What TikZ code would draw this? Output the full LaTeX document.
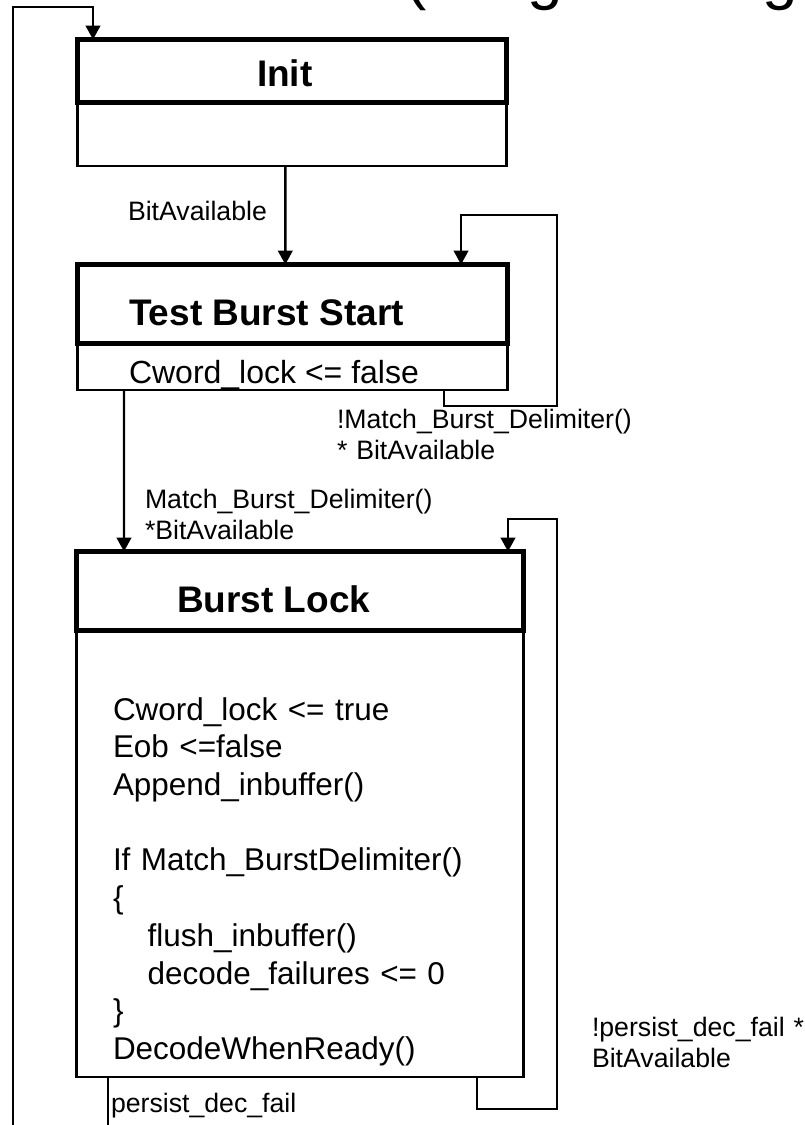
\documentclass[tikz,border=0pt]{standalone}
\usepackage{fontspec}
\setmainfont{Liberation Sans}
\usetikzlibrary{positioning,arrows.meta}

\begin{document}
\begin{tikzpicture}[
        x=0.75pt, y=-0.75pt,
        every node/.style={inner sep=0pt, outer sep=0pt},
        head/.style = {draw, line width=3.75pt},
        body/.style = {draw, line width=1.8pt},
        title/.style = {font=\fontsize{27.75pt}{33pt}\selectfont\bfseries, anchor=base west},
        code/.style = {font=\fontsize{23.6pt}{28.3pt}\selectfont, anchor=base west},
        guard/.style = {font=\fontsize{20pt}{23.25pt}\selectfont, anchor=base west, align=left, text width=240pt},
        trans/.style = {draw, line width=1.8pt, -{Triangle[length=10.5pt,width=11pt]}}
    ]
 \useasboundingbox (0,0) rectangle (804,1125);

 \node[anchor=base west, font=\fontsize{48pt}{50pt}\selectfont] (cut a) at (405,-3) {(};
 \node[anchor=base west, font=\fontsize{48pt}{50pt}\selectfont] (cut b) at (527,-3) {g};
 \node[anchor=base west, font=\fontsize{48pt}{50pt}\selectfont] (cut c) at (762,-3) {g};

 \node[head, minimum width=321.75pt, minimum height=47.25pt] (init) at (292,71) {};
 \node[body, minimum width=321.75pt, minimum height=47.5pt, below=0pt of init] (init body) {};
 \node[title] (init name) at (257,86) {Init};

 \node[head, minimum width=322.5pt, minimum height=58.875pt] (tbs) at (292.5,303.75) {};
 \node[body, minimum width=322.5pt, minimum height=35.25pt, below=0pt of tbs] (tbs body) {};
 \node[title] (tbs name) at (129,325) {Test Burst Start};
 \node[code, font=\fontsize{24pt}{28pt}\selectfont] (tbs act) at (129,383) {Cword\_lock <= false};

 \node[head, minimum width=335.25pt, minimum height=58.875pt] (lock) at (300,590.75) {};
 \node[body, minimum width=335.25pt, minimum height=335.25pt, below=0pt of lock] (lock body) {};
 \node[title] (lock name) at (177,612) {Burst Lock};
 \node[code, align=left, text width=300pt] (lock act) at (113,720) {Cword\_lock <= true\\
 Eob <=false\\
 Append\_inbuffer()\\
 \mbox{}\\
 If Match\_BurstDelimiter()\\
 \{\\
 \hspace*{26pt}flush\_inbuffer()\\
 \hspace*{26pt}decode\_failures <= 0\\
 \}\\
 DecodeWhenReady()};

 \node[guard] (g1) at (128,220) {BitAvailable};
 \node[guard] (g2) at (337,428) {!Match\_Burst\_Delimiter()\\{}* BitAvailable};
 \node[guard] (g3) at (145,508) {Match\_Burst\_Delimiter()\\{}*BitAvailable};
 \node[guard] (g4) at (592,1036) {!persist\_dec\_fail *\\BitAvailable};
 \node[guard] (g5) at (111,1112) {persist\_dec\_fail};

 \coordinate (back) at (13,1125);
 \coordinate (top) at (93,7);
 \coordinate (fail) at (108,1125);

 \draw[trans] (back) |- (top) -- (init.north -| top);
 \draw[trans] ([xshift=-5pt]init body.south) -- ([xshift=-5.4pt]tbs.north);
 \draw[trans] ([xshift=113.6pt]tbs body.south) -- ++(0,16) -| (557,215) -| ([xshift=126.4pt]tbs.north);
 \draw[trans] ([xshift=-126.4pt]tbs body.south) -- ([xshift=-132pt]lock.north);
 \draw[trans] ([xshift=132.75pt]lock body.south) -- ++(0,32) -| (557,519) -| ([xshift=156pt]lock.north);
 \draw[line width=1.8pt] (lock body.south -| fail) -- (fail);
\end{tikzpicture}
\end{document}
